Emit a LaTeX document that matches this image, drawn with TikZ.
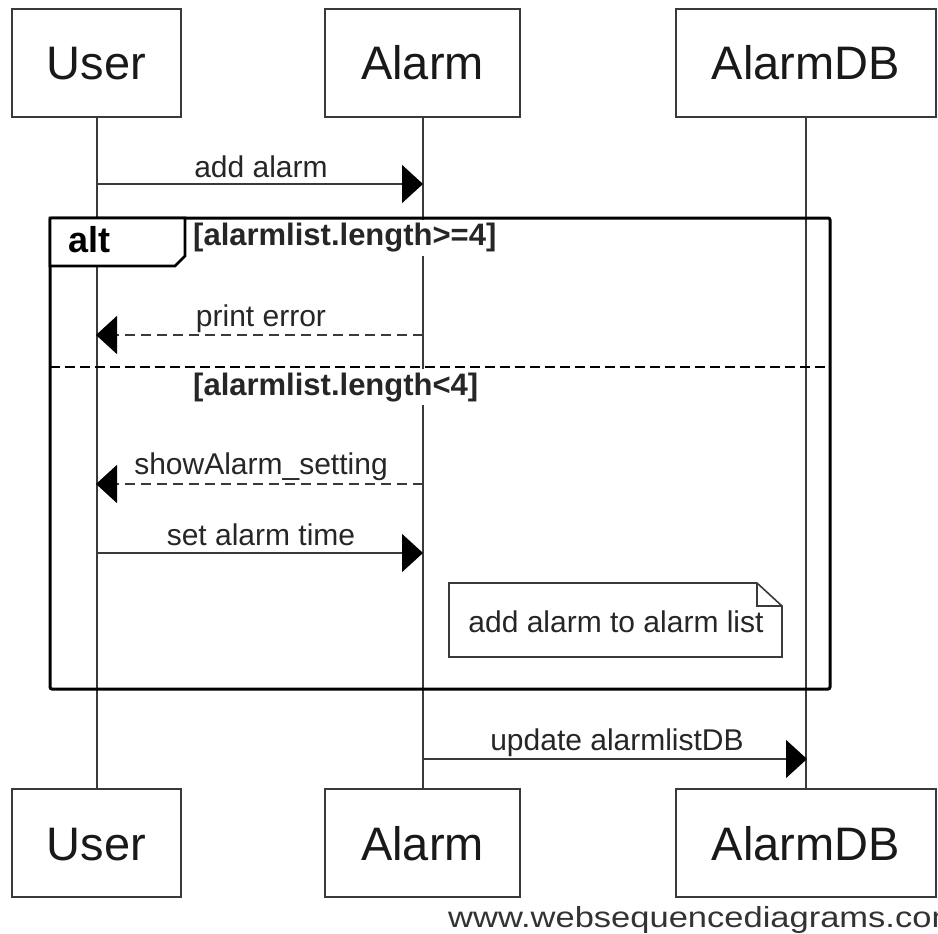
\documentclass[tikz,border=0pt]{standalone}
\usepackage{fontspec}
\setmainfont{Liberation Sans}
\newfontfamily\wmfont[FakeStretch=1.19]{Liberation Sans}
\usetikzlibrary{arrows.meta}
\definecolor{ln}{HTML}{3A3A3A}
\tikzset{
  actor/.style={draw=ln, line width=1.6pt, fill=white, minimum width=#1, minimum height=108pt, inner sep=0pt},
  life/.style={draw=ln, line width=2pt},
  msg/.style={draw=ln, line width=1.6pt, -{Triangle[length=21pt,width=38pt,color=black]}},
  ret/.style={msg, dash pattern=on 10pt off 6pt},
  mlabel/.style={anchor=base, inner sep=0pt, font=\fontsize{30}{32}\selectfont, text=black!85},
  alttab/.style={draw=black, line width=2.6pt, fill=white},
  guard/.style={anchor=north west, fill=white, inner sep=3pt, minimum height=36pt, font=\bfseries\fontsize{31}{33}\selectfont, text=black!85},
  hdr/.style={anchor=base, inner sep=0pt, font=\fontsize{47}{50}\selectfont, text=black!90}
}
\begin{document}
\begin{tikzpicture}[x=1pt, y=-1pt]
\useasboundingbox (0,0) rectangle (938,934);
\clip (0,0) rectangle (938,934);
% actor boxes
\node[actor=169pt] (uT) at (96.5,63) {};
\node[actor=195pt] (aT) at (422.5,63) {};
\node[actor=260pt] (dT) at (806,63) {};
\node[actor=169pt] (uB) at (96.5,843) {};
\node[actor=195pt] (aB) at (422.5,843) {};
\node[actor=260pt] (dB) at (806,843) {};
\node[hdr] (uTt) at (96.5,80) {User};
\node[hdr] (aTt) at (422.5,80) {Alarm};
\node[hdr] (dTt) at (806,80) {AlarmDB};
\node[hdr] (uBt) at (96.5,860) {User};
\node[hdr] (aBt) at (422.5,860) {Alarm};
\node[hdr] (dBt) at (806,860) {AlarmDB};
% lifelines
\draw[life] (uT.south) -- (uB.north);
\draw[life] (aT.south) -- (aB.north);
\draw[life] (dT.south) -- (dB.north);
% alt frame
\draw[line width=3pt, rounded corners=2pt] (50,218) rectangle (830,689);
\draw[alttab] (50,218) -- (185,218) -- (185,256) -- (175,266) -- (50,266) -- cycle;
\node[anchor=base, inner sep=0pt, font=\bfseries\fontsize{36}{38}\selectfont] (alt) at (89.5,252) {alt};
\node[guard] (g1) at (190,219.5) {[alarmlist.length>=4]};
\draw[draw=black, line width=2.2pt, dash pattern=on 10pt off 5pt] (50,367) -- (830,367);
\node[guard] (g2) at (190,369) {[alarmlist.length<4]};
% coordinates on lifelines
\coordinate (u1) at (96,184);  \coordinate (a1) at (423,184);
\coordinate (u2) at (96,335);  \coordinate (a2) at (423,335);
\coordinate (u3) at (96,484);  \coordinate (a3) at (423,484);
\coordinate (u4) at (96,553);  \coordinate (a4) at (423,553);
\coordinate (a5) at (423,759); \coordinate (d5) at (807,759);
% messages
\draw[msg] (u1) -- (a1);
\node[mlabel] (l1) at (261,177) {add alarm};
\draw[ret] (a2) -- (u2);
\node[mlabel] (l2) at (261,326) {print error};
\draw[ret] (a3) -- (u3);
\node[mlabel] (l3) at (261,474) {showAlarm\_setting};
\draw[msg] (u4) -- (a4);
\node[mlabel] (l4) at (261,545) {set alarm time};
% note
\draw[draw=ln, line width=1.6pt, fill=white] (449,583) -- (757,583) -- (782,606) -- (782,657) -- (449,657) -- cycle;
\draw[draw=ln, line width=1.4pt] (757,583) -- (757,606) -- (782,606);
\node[mlabel] (note) at (616,632) {add alarm to alarm list};
% final message
\draw[msg] (a5) -- (d5);
\node[mlabel] (l5) at (617,750) {update alarmlistDB};
% watermark
\node[anchor=base west, inner sep=0pt, font=\wmfont\fontsize{29}{31}\selectfont, text=black!80] (wm) at (448,927) {www.websequencediagrams.com};
\end{tikzpicture}
\end{document}
